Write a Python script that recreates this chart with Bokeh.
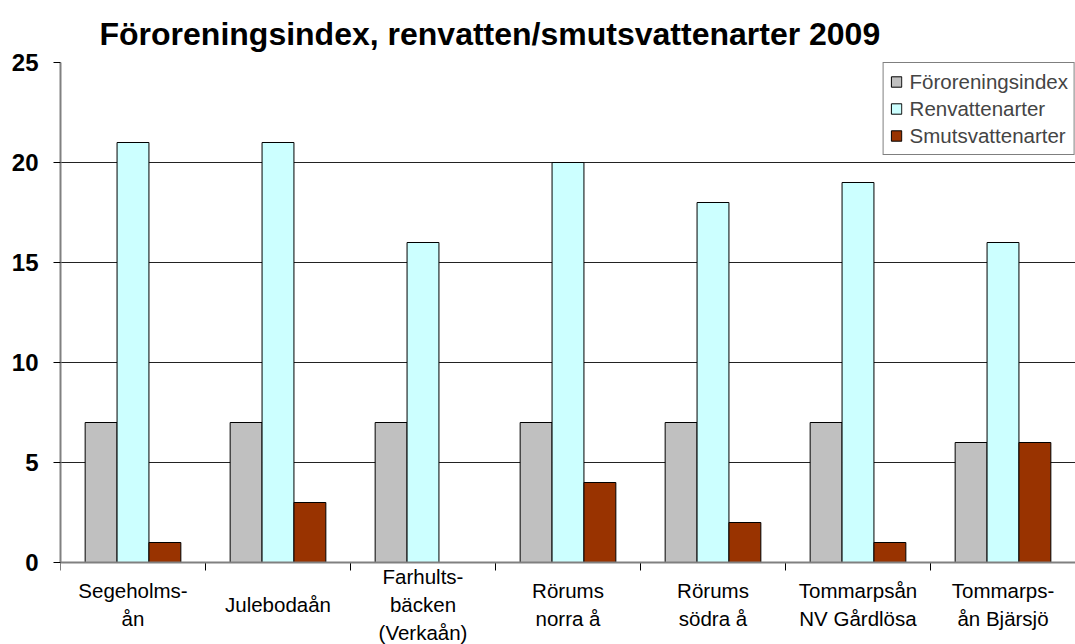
from bokeh.plotting import figure
from bokeh.models import ColumnDataSource, FixedTicker, Legend, LegendItem, Range1d, Title, Span
from bokeh.core.properties import value
from bokeh.embed import file_html
from bokeh.resources import INLINE

categories = ["Segeholms-\nån", "Julebodaån", "Farhults-\nbäcken\n(Verkaån)", "Rörums\nnorra å",
              "Rörums\nsödra å", "Tommarpsån\nNV Gårdlösa", "Tommarps-\nån Bjärsjö"]
fororeningsindex = [7, 7, 7, 7, 7, 7, 6]
renvattenarter = [21, 21, 16, 20, 18, 19, 16]
smutsvattenarter = [1, 3, 0, 4, 2, 1, 6]
series_names = ["Föroreningsindex", "Renvattenarter", "Smutsvattenarter"]
y_ticks = [0, 5, 10, 15, 20, 25]

colors = ["#C0C0C0", "#CCFFFF", "#993300"]
n = len(categories)
centers = [i + 0.5 for i in range(n)]
boundaries = list(range(n + 1))

W, H = 1075, 644
B_LEFT, B_TOP = 60, 62
PLOT_BOTTOM = 562             # pixel row of the value axis' zero
ymax = 25
px_per_unit = (PLOT_BOTTOM - B_TOP) / ymax
ymin = -(H - PLOT_BOTTOM) / px_per_unit

p = figure(width=W, height=H, output_backend="svg", toolbar_location=None,
           x_range=Range1d(0, n), y_range=Range1d(ymin, ymax))
p.min_border_left = B_LEFT
p.min_border_right = 0
p.min_border_top = B_TOP
p.min_border_bottom = 0
p.outline_line_color = None
p.background_fill_color = "white"
p.border_fill_color = "white"

t = Title(text="Föroreningsindex, renvatten/smutsvattenarter 2009", align="left",
          text_font="Liberation Sans", text_font_size="32px", text_font_style="bold",
          text_color="black", offset=39, standoff=22)
p.add_layout(t, "above")

# grid first
p.xgrid.visible = False
p.ygrid.ticker = FixedTicker(ticks=y_ticks)
p.ygrid.grid_line_color = "#222222"
p.ygrid.grid_line_width = 1

bw = 0.22
offsets = [-bw, 0, bw]
renderers = []
for vals, off, col in zip([fororeningsindex, renvattenarter, smutsvattenarter], offsets, colors):
    src = ColumnDataSource(dict(x=[c + off for c in centers], top=vals))
    r = p.vbar(x="x", top="top", width=bw, bottom=0, source=src, fill_color=col,
               line_color="black", line_width=1)
    renderers.append(r)

# y axis
p.yaxis.ticker = FixedTicker(ticks=y_ticks)
p.yaxis.bounds = (0, ymax)
p.yaxis.axis_line_color = "#808080"
p.yaxis.axis_line_width = 2
p.yaxis.major_tick_out = 7
p.yaxis.major_tick_in = 0
p.yaxis.minor_tick_out = 0
p.yaxis.minor_tick_in = 0
p.yaxis.major_tick_line_color = "black"
p.yaxis.major_label_text_font = "Liberation Sans"
p.yaxis.major_label_text_font_style = "bold"
p.yaxis.major_label_text_font_size = "24px"
p.yaxis.major_label_text_color = "black"
p.yaxis.major_label_standoff = 15

# category axis drawn inside the frame: baseline, boundary ticks, labels
p.xaxis.visible = False
tick_len = 8 / px_per_unit
p.segment(x0=boundaries, y0=[0] * len(boundaries), x1=boundaries, y1=[-tick_len] * len(boundaries),
          line_color="black", line_width=1)
p.add_layout(Span(location=0, dimension="width", line_color="#808080", line_width=2))

label_mid = -(604 - PLOT_BOTTOM) / px_per_unit
src_l = ColumnDataSource(dict(x=centers, y=[label_mid] * n, text=categories))
p.text(x="x", y="y", text="text", source=src_l, text_align="center", text_baseline="middle",
       text_font=value("Liberation Sans"), text_font_size="20.5px", text_color="black",
       text_line_height=1.22)

legend = Legend(items=[LegendItem(label=nm, renderers=[r]) for nm, r in zip(series_names, renderers)],
                location="top_right", margin=0, padding=6, spacing=2,
                glyph_width=13, glyph_height=13, label_height=25, label_standoff=7,
                label_text_font="Liberation Sans", label_text_font_size="20.5px",
                border_line_color="black", border_line_width=1,
                background_fill_color="white", background_fill_alpha=1)
p.add_layout(legend)

open("out.html", "w").write(file_html(p, INLINE))
